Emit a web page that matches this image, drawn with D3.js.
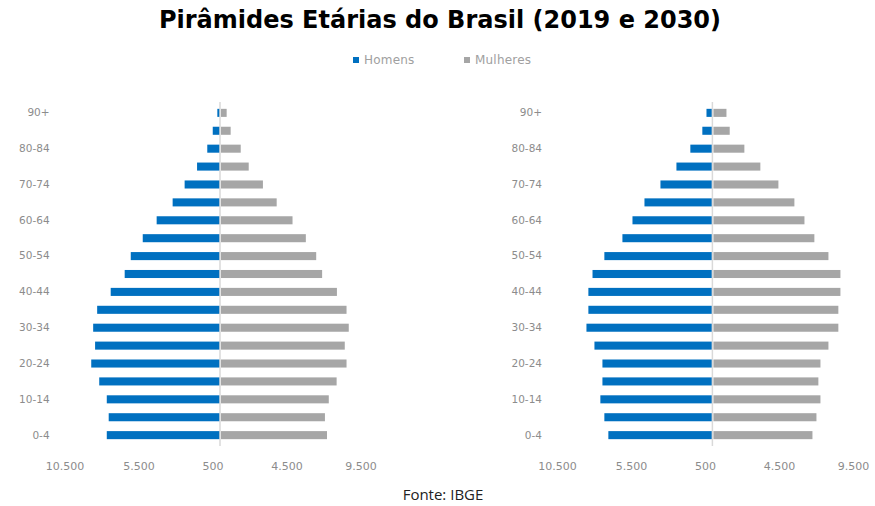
<!DOCTYPE html>
<html>
<head>
<meta charset="utf-8">
<script src="https://cdn.jsdelivr.net/npm/d3@7"></script>
<style>
  body { margin: 0; background: #fff; }
  svg { display: block; }
</style>
</head>
<body>
<div id="chart"></div>
<script>
// Age groups, bottom to top
const ageGroups = ['0-4', '5-9', '10-14', '15-19', '20-24', '25-29', '30-34', '35-39', '40-44',
  '45-49', '50-54', '55-59', '60-64', '65-69', '70-74', '75-79', '80-84', '85-89', '90+'];

// Population in thousands
const men2019 = [7650, 7520, 7650, 8160, 8700, 8440, 8570, 8300, 7385,
  6440, 6030, 5220, 4280, 3200, 2390, 1550, 860, 490, 180];
const women2019 = [7230, 7090, 7350, 7880, 8550, 8430, 8700, 8550, 7900,
  6900, 6500, 5800, 4900, 3830, 2900, 1940, 1400, 720, 450];
const men2030 = [7030, 7300, 7570, 7430, 7430, 7970, 8510, 8380, 8380,
  8100, 7300, 6080, 5400, 4590, 3510, 2430, 1490, 680, 400];
const women2030 = [6760, 7030, 7300, 7160, 7300, 7840, 8510, 8510, 8650,
  8650, 7840, 6890, 6220, 5540, 4460, 3240, 2160, 1170, 950];

const xTicks = [-10500, -5500, -500, 4500, 9500];
const seriesNames = ['Homens', 'Mulheres'];
const colors = { Homens: '#0070c0', Mulheres: '#a6a6a6' };

const width = 875, height = 506;
const svg = d3.select('#chart').append('svg')
  .attr('width', width)
  .attr('height', height);

const ptBR = d3.formatLocale({ decimal: ',', thousands: '.', grouping: [3], currency: ['R$', ''] });
const fmt = ptBR.format(',');

// Title
svg.append('text')
  .attr('x', 440)
  .attr('y', 28)
  .attr('text-anchor', 'middle')
  .style('font-family', '"DejaVu Sans", Verdana, sans-serif')
  .style('font-weight', 'bold')
  .style('font-size', '24px')
  .style('fill', '#000')
  .text('Pirâmides Etárias do Brasil (2019 e 2030)');

// Legend
const legend = svg.append('g').attr('transform', 'translate(353,60)');
const legendX = d3.scalePoint().domain(seriesNames).range([0, 111]);
seriesNames.forEach(name => {
  const g = legend.append('g').attr('transform', `translate(${legendX(name)},0)`);
  g.append('rect')
    .attr('x', 0).attr('y', -3)
    .attr('width', 6).attr('height', 6)
    .attr('fill', colors[name]);
  g.append('text')
    .attr('x', 11).attr('y', 0)
    .attr('dy', '0.35em')
    .style('font-family', '"DejaVu Sans", sans-serif')
    .style('font-size', '12px')
    .style('letter-spacing', '0.2px')
    .style('fill', '#a0a0a0')
    .text(name);
});

const y = d3.scaleBand()
  .domain(ageGroups)
  .range([444, 104])
  .paddingInner(0.55)
  .paddingOuter(0.27);

function drawPyramid(left, men, women) {
  const x = d3.scaleLinear()
    .domain([-10500, 9500])
    .range([left, left + 296]);

  const g = svg.append('g');

  // Men bars (to the left)
  g.selectAll('.men')
    .data(ageGroups)
    .join('rect')
    .attr('class', 'men')
    .attr('x', (d, i) => x(-men[i]))
    .attr('y', d => y(d))
    .attr('width', (d, i) => x(0) - x(-men[i]))
    .attr('height', y.bandwidth())
    .attr('fill', colors.Homens);

  // Women bars (to the right)
  g.selectAll('.women')
    .data(ageGroups)
    .join('rect')
    .attr('class', 'women')
    .attr('x', x(0) + 1)
    .attr('y', d => y(d))
    .attr('width', (d, i) => x(women[i]) - x(0) - 1)
    .attr('height', y.bandwidth())
    .attr('fill', colors.Mulheres);

  // Center line
  g.append('line')
    .attr('x1', x(0)).attr('x2', x(0))
    .attr('y1', 102).attr('y2', 446)
    .attr('stroke', '#d9d9d9')
    .attr('stroke-width', 1.5);

  // X axis
  const xAxis = g.append('g')
    .attr('transform', 'translate(0,459)')
    .call(d3.axisBottom(x)
      .tickValues(xTicks)
      .tickSize(0)
      .tickFormat(d => fmt(Math.abs(d))));
  xAxis.select('.domain').remove();
  xAxis.selectAll('text')
    .style('font-family', '"DejaVu Sans", sans-serif')
    .style('font-size', '11px')
    .style('fill', '#8c8c8c');

  // Y axis (every other label)
  const yAxis = g.append('g')
    .attr('transform', `translate(${left - 12},0)`)
    .call(d3.axisLeft(y)
      .tickSize(0)
      .tickFormat((d, i) => i % 2 === 0 ? d : ''));
  yAxis.select('.domain').remove();
  yAxis.selectAll('text')
    .style('font-family', '"DejaVu Sans", sans-serif')
    .style('font-size', '10.5px')
    .style('fill', '#8c8c8c');
}

drawPyramid(64.6, men2019, women2019);
drawPyramid(557, men2030, women2030);

// Source
svg.append('text')
  .attr('x', 443)
  .attr('y', 500)
  .attr('text-anchor', 'middle')
  .style('font-family', '"Open Sans", sans-serif')
  .style('font-size', '15px')
  .style('fill', '#222')
  .text('Fonte: IBGE');
</script>
</body>
</html>
